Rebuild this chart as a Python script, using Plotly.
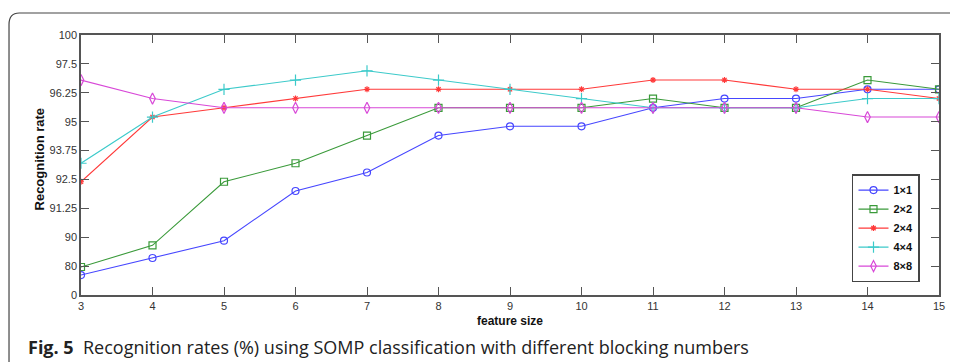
import numpy as np
import plotly.graph_objects as go

feature_size = [3, 4, 5, 6, 7, 8, 9, 10, 11, 12, 13, 14, 15]

rate_1x1 = [55.2, 82.8, 88.8, 92.0, 92.8, 94.4, 94.8, 94.8, 95.6, 96.0, 96.0, 96.4, 96.4]
rate_2x2 = [77.6, 87.2, 92.4, 93.2, 94.4, 95.6, 95.6, 95.6, 96.0, 95.6, 95.6, 96.8, 96.4]
rate_2x4 = [92.4, 95.2, 95.6, 96.0, 96.4, 96.4, 96.4, 96.4, 96.8, 96.8, 96.4, 96.4, 96.0]
rate_4x4 = [93.2, 95.2, 96.4, 96.8, 97.2, 96.8, 96.4, 96.0, 95.6, 95.6, 95.6, 96.0, 96.0]
rate_8x8 = [96.8, 96.0, 95.6, 95.6, 95.6, 95.6, 95.6, 95.6, 95.6, 95.6, 95.6, 95.2, 95.2]

y_tick_values = [0, 80, 90, 91.25, 92.5, 93.75, 95, 96.25, 97.5, 100]
y_tick_labels = ["0", "80", "90", "91.25", "92.5", "93.75", "95", "96.25", "97.5", "100"]

series = [
    ("1×1", rate_1x1, "#4646ff", "circle-open", 7),
    ("2×2", rate_2x2, "#3a9a3a", "square-open", 7),
    ("2×4", rate_2x4, "#ff3a3a", "asterisk-open", 5),
    ("4×4", rate_4x4, "#3ccaca", "cross-thin-open", 8),
    ("8×8", rate_8x8, "#d848d8", "diamond-tall-open", 8),
]

tick_pos = np.arange(len(y_tick_values))


def to_axis(vals):
    # the original axis places the labelled rates at equal spacing
    return np.interp(vals, y_tick_values, tick_pos)


fig = go.Figure()
for name, vals, color, sym, msize in series:
    fig.add_trace(go.Scatter(
        x=feature_size, y=to_axis(vals), name="<b>" + name + "</b>", mode="lines+markers",
        line=dict(color=color, width=1.1),
        marker=dict(symbol=sym, size=msize, color=color, line=dict(color=color, width=1.2)),
    ))

axis_font = dict(family="Liberation Sans, Arial, sans-serif", size=11, color="#333")
fig.update_xaxes(
    range=[3, 15], tickvals=feature_size, ticks="inside", ticklen=8, tickcolor="#555",
    showline=True, linecolor="#555", linewidth=1.5, mirror="ticks", showgrid=False,
    zeroline=False, tickfont=axis_font,
    title=dict(text="<b>feature size</b>", standoff=6,
               font=dict(family="Liberation Sans, Arial, sans-serif", size=12, color="#111")),
)
fig.update_yaxes(
    range=[0, 9], tickvals=list(tick_pos), ticktext=y_tick_labels, ticks="inside", ticklen=8,
    tickcolor="#555", showline=True, linecolor="#555", linewidth=1.5, mirror="ticks",
    showgrid=False, zeroline=False, tickfont=axis_font, title=None,
)

fig.add_annotation(
    xref="paper", yref="paper", x=-0.0478, y=0.525, xanchor="center", yanchor="middle",
    text="<b>Recognition rate</b>", textangle=-90, showarrow=False,
    font=dict(family="Liberation Sans, Arial, sans-serif", size=13, color="#111"),
)

# outer figure frame (rounded top-left corner) as in the original page
fig.add_shape(type="path", xref="paper", yref="paper",
              path="M -0.0839,-0.3 L -0.0839,1.04 Q -0.0839,1.0846 -0.072,1.0846 L 1.05,1.0846",
              line=dict(color="#444", width=1.2))

fig.add_annotation(
    xref="paper", yref="paper", x=-0.0641, y=-0.2, xanchor="left", yanchor="middle",
    text="<b>Fig. 5</b>  Recognition rates (%) using SOMP classification with different blocking numbers",
    showarrow=False, font=dict(family="Open Sans, Noto Sans, sans-serif", size=18, color="#222"),
)

fig.update_layout(
    width=950, height=354,
    margin=dict(l=73, r=19, t=27, b=67),
    paper_bgcolor="white", plot_bgcolor="white",
    showlegend=True,
    legend=dict(x=0.8986, y=0.465, xanchor="left", yanchor="top",
                bordercolor="#444", borderwidth=1.5, bgcolor="white",
                font=dict(family="Liberation Sans, Arial, sans-serif", size=11, color="#111"),
                itemwidth=30, tracegroupgap=0),
)

fig.write_html("out.html")
